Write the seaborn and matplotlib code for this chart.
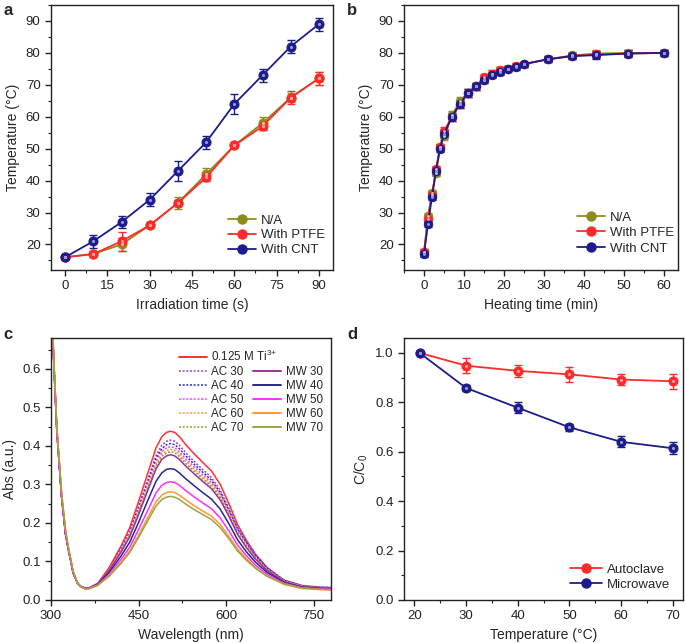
import numpy as np
import matplotlib
matplotlib.use('Agg')
import matplotlib.pyplot as plt
import seaborn as sns
from matplotlib.lines import Line2D
from matplotlib.ticker import AutoMinorLocator, MultipleLocator, FormatStrFormatter

# ---------------- data ----------------
# panel a
irr_time = [0, 10, 20, 30, 40, 50, 60, 70, 80, 90]
a_na = [16, 17, 20, 26, 33, 42, 51, 58, 66, 72]
a_na_err = [0.5, 0.5, 2, 0.5, 2, 2, 0.5, 2, 1.5, 2]
a_ptfe = [16, 17, 21, 26, 33, 41, 51, 57, 66, 72]
a_ptfe_err = [0.5, 0.7, 3, 0.5, 1, 1, 0.5, 1, 2, 2]
a_cnt = [16, 21, 27, 34, 43, 52, 64, 73, 82, 89]
a_cnt_err = [0.5, 2, 2, 2, 3, 2, 3, 2, 2, 2]

# panel b
heat_time = [0, 1, 2, 3, 4, 5, 7, 9, 11, 13, 15, 17, 19, 21, 23, 25, 31, 37, 43, 51, 60]
b_na = [17.5, 29, 36, 42.5, 50.5, 54, 60.5, 65, 67.5, 69.5, 71.5, 73.5, 74.5, 75, 76, 76.5, 78, 79.2, 79.8, 80, 80]
b_ptfe = [17.5, 28, 35.5, 43.5, 50.5, 55.5, 60, 64, 67.5, 69.5, 72.5, 73.5, 74.5, 75, 76, 76.5, 78, 79, 79.5, 79.8, 80]
b_cnt = [17, 26.5, 35, 43, 50, 54.5, 60, 64, 67.5, 69.5, 71.5, 73, 74, 75, 75.5, 76.5, 78, 79, 79.3, 79.8, 80]
b_err = [1, 1, 1.2, 1.2, 1, 1.2, 1.2, 1.2, 1.2, 1, 1, 1, 1, 0.8, 0.8, 0.8, 1, 1, 1.2, 1, 1]

# panel c
wavelength = [300, 302, 305, 310, 318, 325, 330, 338, 345, 350, 358, 365,
              380, 400, 420, 435, 450, 465, 480, 490, 498, 505, 512, 520, 530, 545,
              560, 575, 590, 605, 620, 635, 650, 670, 700, 730, 760, 780]
uv_common = [0.85, 0.72, 0.61, 0.44, 0.27, 0.17, 0.13, 0.07, 0.045, 0.036, 0.031, 0.031]
uv_shift = [0.86, 0.73, 0.62, 0.45, 0.28, 0.18, 0.135, 0.074, 0.046, 0.035, 0.029, 0.029]
spec_ti = uv_common + [0.043, 0.085, 0.140, 0.188, 0.255, 0.325, 0.395, 0.424, 0.435, 0.438, 0.435, 0.424, 0.405, 0.380,
                       0.357, 0.335, 0.300, 0.250, 0.195, 0.155, 0.120, 0.085, 0.050, 0.036, 0.031, 0.030]
spec_ac30 = uv_common + [0.042, 0.082, 0.134, 0.179, 0.242, 0.308, 0.375, 0.402, 0.412, 0.415, 0.412, 0.402, 0.384, 0.360,
                         0.339, 0.318, 0.285, 0.238, 0.188, 0.152, 0.118, 0.084, 0.052, 0.038, 0.034, 0.033]
spec_ac40 = uv_common + [0.042, 0.081, 0.131, 0.176, 0.238, 0.302, 0.367, 0.393, 0.403, 0.406, 0.403, 0.393, 0.376, 0.353,
                         0.332, 0.311, 0.279, 0.233, 0.184, 0.149, 0.116, 0.083, 0.051, 0.037, 0.033, 0.032]
spec_ac50 = uv_common + [0.042, 0.080, 0.129, 0.173, 0.233, 0.296, 0.359, 0.385, 0.395, 0.398, 0.395, 0.385, 0.368, 0.346,
                         0.325, 0.305, 0.274, 0.228, 0.180, 0.145, 0.112, 0.081, 0.050, 0.036, 0.032, 0.031]
spec_ac60 = uv_common + [0.041, 0.079, 0.127, 0.170, 0.229, 0.291, 0.353, 0.379, 0.388, 0.391, 0.388, 0.379, 0.362, 0.340,
                         0.319, 0.300, 0.269, 0.225, 0.177, 0.142, 0.110, 0.079, 0.049, 0.035, 0.031, 0.030]
spec_ac70 = uv_shift + [0.041, 0.078, 0.126, 0.168, 0.226, 0.287, 0.348, 0.373, 0.382, 0.385, 0.382, 0.373, 0.356, 0.335,
                        0.315, 0.295, 0.265, 0.221, 0.174, 0.139, 0.108, 0.078, 0.048, 0.035, 0.031, 0.030]
spec_mw30 = uv_common + [0.041, 0.077, 0.124, 0.164, 0.221, 0.281, 0.340, 0.365, 0.374, 0.377, 0.374, 0.365, 0.349, 0.328,
                         0.308, 0.289, 0.260, 0.217, 0.170, 0.136, 0.107, 0.077, 0.047, 0.034, 0.031, 0.030]
spec_mw40 = uv_common + [0.040, 0.072, 0.114, 0.150, 0.201, 0.255, 0.308, 0.330, 0.339, 0.341, 0.339, 0.330, 0.316, 0.297,
                         0.279, 0.262, 0.236, 0.198, 0.156, 0.125, 0.099, 0.072, 0.045, 0.033, 0.030, 0.029]
spec_mw50 = uv_common + [0.039, 0.067, 0.105, 0.137, 0.183, 0.230, 0.278, 0.298, 0.305, 0.307, 0.305, 0.298, 0.285, 0.268,
                         0.252, 0.237, 0.213, 0.179, 0.142, 0.115, 0.091, 0.067, 0.043, 0.032, 0.029, 0.028]
spec_mw60 = uv_shift + [0.038, 0.064, 0.098, 0.127, 0.168, 0.211, 0.255, 0.272, 0.279, 0.281, 0.279, 0.272, 0.261, 0.245,
                        0.231, 0.218, 0.196, 0.165, 0.132, 0.107, 0.085, 0.062, 0.040, 0.030, 0.027, 0.026]
spec_mw70 = uv_shift + [0.038, 0.062, 0.095, 0.123, 0.162, 0.203, 0.244, 0.261, 0.267, 0.269, 0.267, 0.261, 0.250, 0.235,
                        0.222, 0.209, 0.188, 0.159, 0.127, 0.103, 0.083, 0.062, 0.042, 0.031, 0.028, 0.027]

# panel d
temp_d = [21, 30, 40, 50, 60, 70]
d_auto = [1.0, 0.948, 0.927, 0.913, 0.892, 0.885]
d_auto_err = [0.005, 0.03, 0.025, 0.03, 0.022, 0.03]
d_micro = [1.0, 0.858, 0.778, 0.699, 0.640, 0.614]
d_micro_err = [0.005, 0.012, 0.022, 0.015, 0.022, 0.025]

# ---------------- style ----------------
sns.set_theme(style='ticks')
plt.rcParams['font.family'] = ['Liberation Sans', 'DejaVu Sans']
plt.rcParams['mathtext.fontset'] = 'custom'
plt.rcParams['mathtext.rm'] = 'Liberation Sans'
plt.rcParams['mathtext.it'] = 'Liberation Sans:italic'
plt.rcParams['mathtext.default'] = 'regular'
plt.rcParams['axes.linewidth'] = 1.0
plt.rcParams['xtick.major.width'] = 1.0
plt.rcParams['ytick.major.width'] = 1.0
plt.rcParams['xtick.minor.width'] = 0.8
plt.rcParams['ytick.minor.width'] = 0.8
plt.rcParams['xtick.major.size'] = 4
plt.rcParams['ytick.major.size'] = 4
plt.rcParams['xtick.minor.size'] = 2.2
plt.rcParams['ytick.minor.size'] = 2.2
plt.rcParams['xtick.color'] = '#222222'
plt.rcParams['ytick.color'] = '#222222'
plt.rcParams['axes.edgecolor'] = '#222222'

OLIVE = '#8C8C1E'
RED = '#FF2A2A'
NAVY = '#1C1C8C'

TICK_FS = 9.5
LAB_FS = 10
LEG_FS = 9.5

fig = plt.figure(figsize=(6.85, 6.43), dpi=100)
ax_a = fig.add_axes([51/685, 1-270/643, 282/685, 265/643])
ax_b = fig.add_axes([404/685, 1-270/643, 274/685, 265/643])
ax_c = fig.add_axes([51/685, 1-600/643, 280/685, 262/643])
ax_d = fig.add_axes([404/685, 1-600/643, 279/685, 262/643])


def light(c, f=0.55):
    import matplotlib.colors as mc
    r, g, b = mc.to_rgb(c)
    return (r + (1-r)*f, g + (1-g)*f, b + (1-b)*f)


def series(ax, x, y, err, color, ms=6.5):
    ax.errorbar(x, y, yerr=err, fmt='none', ecolor=color, elinewidth=1.0,
                capsize=3, capthick=1.0, zorder=2)
    sns.lineplot(x=x, y=y, ax=ax, color=color, lw=1.3, marker='o', markersize=ms,
                 markeredgecolor=color, markerfacecolor=color, zorder=3, legend=False)
    ax.plot(x, y, ls='none', marker='o', markersize=ms*0.35, color=light(color), zorder=4,
            markeredgewidth=0)


def handle(color):
    return Line2D([], [], color=color, lw=1.3, marker='o', markersize=6.5,
                  markerfacecolor=color, markeredgecolor=color)


def style_ax(ax):
    ax.tick_params(labelsize=TICK_FS, direction='out', top=False, right=False)
    ax.tick_params(which='minor', top=False, right=False)
    for s in ax.spines.values():
        s.set_visible(True)
        s.set_linewidth(1.0)
    ax.xaxis.set_minor_locator(AutoMinorLocator(2))
    ax.yaxis.set_minor_locator(AutoMinorLocator(2))


LEG_KW = dict(frameon=False, fontsize=LEG_FS, handlelength=2.1, handletextpad=0.4,
              labelspacing=0.2, borderaxespad=0.0)

# ---------------- panel a ----------------
series(ax_a, irr_time, a_na, a_na_err, OLIVE)
series(ax_a, irr_time, a_ptfe, a_ptfe_err, RED)
series(ax_a, irr_time, a_cnt, a_cnt_err, NAVY)
ax_a.set_xlim(-5, 95)
ax_a.set_ylim(12, 95)
ax_a.xaxis.set_major_locator(MultipleLocator(15))
ax_a.yaxis.set_major_locator(MultipleLocator(10))
ax_a.set_xlabel('Irradiation time (s)', fontsize=LAB_FS)
ax_a.set_ylabel('Temperature (°C)', fontsize=LAB_FS)
style_ax(ax_a)
ax_a.legend(handles=[handle(OLIVE), handle(RED), handle(NAVY)],
            labels=['N/A', 'With PTFE', 'With CNT'], loc='upper left',
            bbox_to_anchor=((223 - 51) / 282, (270 - 209) / 265), **LEG_KW)

# ---------------- panel b ----------------
series(ax_b, heat_time, b_na, b_err, OLIVE, ms=6)
series(ax_b, heat_time, b_ptfe, b_err, RED, ms=6)
series(ax_b, heat_time, b_cnt, b_err, NAVY, ms=6)
ax_b.set_xlim(-5, 63.5)
ax_b.set_ylim(12, 95)
ax_b.xaxis.set_major_locator(MultipleLocator(10))
ax_b.yaxis.set_major_locator(MultipleLocator(10))
ax_b.set_xlabel('Heating time (min)', fontsize=LAB_FS)
ax_b.set_ylabel('Temperature (°C)', fontsize=LAB_FS)
style_ax(ax_b)
ax_b.legend(handles=[handle(OLIVE), handle(RED), handle(NAVY)],
            labels=['N/A', 'With PTFE', 'With CNT'], loc='upper left',
            bbox_to_anchor=((572 - 404) / 274, (270 - 206) / 265),
            **dict(LEG_KW, labelspacing=0.25))

# ---------------- panel c ----------------
DOT = (0, (1.3, 1.1))
spec_defs = [
    ('0.125 M Ti$^{3{+}}$', spec_ti, '#FF3030', '-'),
    ('AC 30', spec_ac30, '#A040D0', DOT),
    ('AC 40', spec_ac40, '#3030A8', DOT),
    ('AC 50', spec_ac50, '#FF40FF', DOT),
    ('AC 60', spec_ac60, '#FF9940', DOT),
    ('AC 70', spec_ac70, '#9A9A30', DOT),
    ('MW 30', spec_mw30, '#993399', '-'),
    ('MW 40', spec_mw40, '#28288A', '-'),
    ('MW 50', spec_mw50, '#FF30FF', '-'),
    ('MW 60', spec_mw60, '#FF9933', '-'),
    ('MW 70', spec_mw70, '#A0A048', '-'),
]
handles_c = []
for name, vals, col, ls in spec_defs:
    sns.lineplot(x=wavelength, y=vals, ax=ax_c, color=col, lw=1.1, legend=False)
    ax_c.lines[-1].set_linestyle(ls)
    handles_c.append(Line2D([], [], color=col, lw=1.4 if ls == '-' else 1.1, ls=ls))
ax_c.set_xlim(300, 780)
ax_c.set_ylim(0, 0.68)
ax_c.xaxis.set_major_locator(MultipleLocator(150))
ax_c.yaxis.set_major_locator(MultipleLocator(0.1))
ax_c.yaxis.set_major_formatter(FormatStrFormatter('%.1f'))
ax_c.set_xlabel('Wavelength (nm)', fontsize=LAB_FS)
ax_c.set_ylabel('Abs (a.u.)', fontsize=LAB_FS)
style_ax(ax_c)
C_KW = dict(frameon=False, fontsize=8.4, handlelength=2.4, handletextpad=0.4,
            borderaxespad=0.0)
leg1 = ax_c.legend(handles=[handles_c[0]], labels=[spec_defs[0][0]], loc='upper left',
                   bbox_to_anchor=((174 - 51) / 280, (600 - 344) / 262), **C_KW)
ax_c.add_artist(leg1)
ax_c.legend(handles=handles_c[1:], labels=[d[0] for d in spec_defs[1:]], ncol=2,
            loc='upper left', bbox_to_anchor=((174 - 51) / 280, (600 - 361) / 262),
            labelspacing=0.18, columnspacing=0.8, **C_KW)

# ---------------- panel d ----------------
series(ax_d, temp_d, d_auto, d_auto_err, RED)
series(ax_d, temp_d, d_micro, d_micro_err, NAVY)
ax_d.set_xlim(18, 72)
ax_d.set_ylim(0, 1.06)
ax_d.xaxis.set_major_locator(MultipleLocator(10))
ax_d.yaxis.set_major_locator(MultipleLocator(0.2))
ax_d.yaxis.set_major_formatter(FormatStrFormatter('%.1f'))
ax_d.set_xlabel('Temperature (°C)', fontsize=LAB_FS)
ax_d.set_ylabel('C/C$_0$', fontsize=LAB_FS)
style_ax(ax_d)
ax_d.legend(handles=[handle(RED), handle(NAVY)], labels=['Autoclave', 'Microwave'],
            loc='upper left', bbox_to_anchor=((565 - 404) / 279, (600 - 558) / 262),
            **dict(LEG_KW, handlelength=2.4, labelspacing=0.25))

# panel letters
for lab, (x, y) in zip('abcd', [(3, 3), (347, 3), (3, 327), (347, 327)]):
    fig.text(x/685, 1-y/643, lab, fontsize=12, fontweight='bold', va='top', ha='left')

fig.savefig('out.png', dpi=100)
